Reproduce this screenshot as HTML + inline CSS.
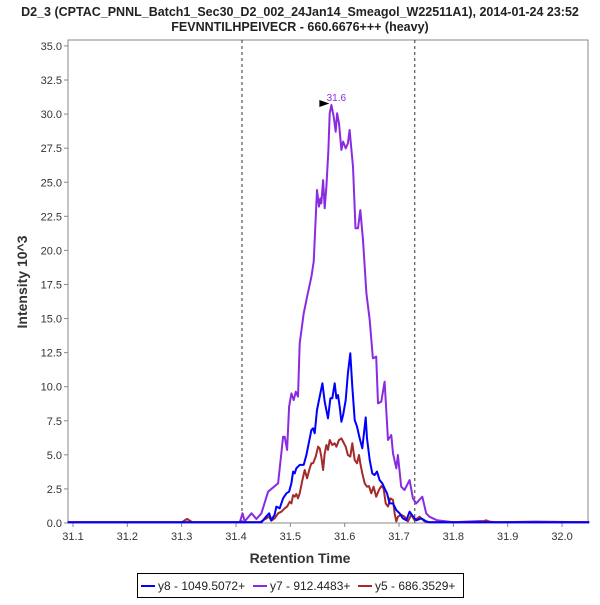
<!DOCTYPE html>
<html><head><meta charset="utf-8"><style>
body{margin:0;background:#fff;font-family:"Liberation Sans",sans-serif}
svg text{font-family:"Liberation Sans",sans-serif}
</style></head><body>
<svg id="chart" width="600" height="600" xmlns="http://www.w3.org/2000/svg">
<text x="300" y="16" text-anchor="middle" font-size="12.5" font-weight="bold" fill="#222">D2_3 (CPTAC_PNNL_Batch1_Sec30_D2_002_24Jan14_Smeagol_W22511A1), 2014-01-24 23:52</text>
<text x="300" y="31" text-anchor="middle" font-size="12.5" font-weight="bold" fill="#222">FEVNNTILHPEIVECR - 660.6676+++ (heavy)</text>
<rect x="68" y="40" width="520" height="483" fill="#fff" stroke="#888"/>
<g id="axes"></g>
<g id="series"></g>
<text x="300" y="563" text-anchor="middle" font-size="14" font-weight="bold" fill="#333">Retention Time</text>
<text transform="translate(27,282) rotate(-90)" text-anchor="middle" font-size="14" font-weight="bold" fill="#333">Intensity 10^3</text>
<g>
<rect x="137.5" y="573.5" width="326" height="24" fill="#fff" stroke="#000"/>
<line x1="141" y1="586" x2="155" y2="586" stroke="#0000ff" stroke-width="2"/>
<text x="158" y="590" font-size="12" fill="#222">y8 - 1049.5072+</text>
<line x1="253" y1="586" x2="267" y2="586" stroke="#8a2be2" stroke-width="2"/>
<text x="270" y="590" font-size="12" fill="#222">y7 - 912.4483+</text>
<line x1="358" y1="586" x2="372" y2="586" stroke="#a52a2a" stroke-width="2"/>
<text x="375" y="590" font-size="12" fill="#222">y5 - 686.3529+</text>
</g>
</svg>
<script>
const xTicks=[31.1,31.2,31.3,31.4,31.5,31.6,31.7,31.8,31.9,32.0];
const yTicks=[0,2.5,5,7.5,10,12.5,15,17.5,20,22.5,25,27.5,30,32.5,35];
const boundaries=[31.411,31.729];
const peakTime=31.6, peakValue=30.67, peakTimeAt=31.5755;

const y7T=[31.09,31.389,31.407,31.412,31.416,31.4285,31.4376,31.4468,31.459,31.4775,31.4866,31.4897,31.494,31.4977,31.502,31.5062,31.51,31.514,31.5173,31.5246,31.5308,31.5387,31.543,31.549,31.5528,31.5553,31.557,31.5602,31.5632,31.5663,31.57,31.5724,31.5755,31.5798,31.5835,31.586,31.5896,31.5939,31.597,31.6018,31.606,31.609,31.6153,31.62,31.6245,31.6288,31.6337,31.64,31.646,31.652,31.658,31.6613,31.6674,31.6735,31.6797,31.6858,31.6889,31.695,31.698,31.704,31.71,31.7195,31.7256,31.7317,31.7428,31.75,31.756,31.77,31.80,31.85,31.88,31.95,32.05];
const y7V=[0.05,0.05,0.05,0.71,0.12,0.71,0.29,0.71,2.30,2.91,6.33,6.33,5.36,8.53,9.51,9.02,9.63,9.27,13.18,15.38,16.6,18.07,19.17,24.43,23.21,23.82,23.45,25.16,23.09,24.68,27.37,30.06,30.67,29.81,28.71,30.06,29.32,27.37,27.98,27.49,27.86,28.83,26.14,21.62,21.62,22.96,20.76,16.85,14.89,12.08,12.2,8.78,8.9,10.37,6.09,6.46,5.11,4.01,4.99,2.66,2.42,3.15,1.81,1.44,1.93,0.71,0.46,0.2,0.05,0.15,0.05,0.1,0.05];

const y8T=[31.09,31.389,31.4468,31.456,31.461,31.465,31.471,31.4744,31.4805,31.4866,31.4928,31.4977,31.502,31.505,31.508,31.511,31.5173,31.5246,31.5296,31.5357,31.5387,31.5418,31.5449,31.549,31.554,31.559,31.5632,31.5693,31.5737,31.5773,31.5816,31.5847,31.5877,31.5908,31.5939,31.597,31.6018,31.606,31.6104,31.614,31.6184,31.6227,31.6276,31.6325,31.6386,31.641,31.646,31.6509,31.6551,31.6594,31.6643,31.6692,31.6735,31.6778,31.6827,31.6889,31.695,31.701,31.7072,31.7134,31.7195,31.7256,31.7317,31.741,31.75,31.756,31.85,32.05];
const y8V=[0.05,0.05,0.05,0.49,0.71,0.2,0.61,1.2,1.08,1.81,2.18,2.30,2.91,3.77,3.64,4.01,4.26,4.26,4.99,6.21,6.82,6.95,6.58,8.29,9.27,10.25,8.9,7.68,9.15,9.15,10.25,9.15,9.39,8.53,7.43,7.92,9.02,10.98,12.45,10.0,7.56,7.07,6.21,5.48,7.75,6.21,4.62,3.64,3.52,3.77,3.15,2.91,2.54,2.18,1.44,1.44,0.95,0.71,0.34,0.2,0.83,0.49,0.2,0.34,0.12,0.05,0.05,0.05];

const y5T=[31.09,31.30,31.31,31.32,31.4438,31.4498,31.456,31.461,31.465,31.471,31.4775,31.4836,31.4897,31.494,31.4989,31.502,31.505,31.508,31.511,31.514,31.5173,31.5222,31.5265,31.5308,31.5357,31.5387,31.5418,31.5467,31.551,31.554,31.557,31.5602,31.5632,31.5663,31.5693,31.5724,31.5773,31.5816,31.5847,31.5896,31.5939,31.597,31.6018,31.606,31.6104,31.614,31.6184,31.6227,31.6263,31.6288,31.6325,31.6368,31.641,31.6447,31.649,31.6533,31.658,31.663,31.6674,31.6717,31.6754,31.6797,31.684,31.6889,31.6919,31.695,31.698,31.704,31.71,31.7164,31.7226,31.7287,31.7379,31.747,31.756,31.85,31.86,31.87,32.05];
const y5V=[0.05,0.05,0.3,0.05,0.05,0.2,0.34,0.46,0.17,0.34,0.71,0.83,1.08,1.2,1.56,1.44,2.05,1.93,2.13,1.81,2.18,3.15,3.89,3.28,4.01,4.38,4.38,4.87,5.6,5.48,4.87,3.89,5.11,5.72,5.36,6.09,5.72,5.85,5.6,6.09,6.21,5.97,5.6,4.99,4.87,5.85,4.62,4.38,4.99,4.38,3.64,2.91,2.66,2.71,2.18,2.66,1.93,2.42,2.71,2.54,1.44,1.2,1.81,1.69,0.71,0.12,0.46,0.61,0.46,0.12,0.61,0.2,0.46,0.12,0.05,0.05,0.2,0.05,0.05];

const X0=68,X1=588,Y0=523,Y1=40;
const tMin=31.1-5/544, tMax=32.0+26/544, vMax=(523-40)/13.63;
const xs=t=>X0+(t-tMin)/(tMax-tMin)*(X1-X0);
const ys=v=>Y0-(v/vMax)*(Y0-Y1);
const NS='http://www.w3.org/2000/svg';
const axes=document.getElementById('axes'), ser=document.getElementById('series');
function mk(tag,attrs,parent){const e=document.createElementNS(NS,tag);for(const k in attrs)e.setAttribute(k,attrs[k]);parent.appendChild(e);return e;}
xTicks.forEach(t=>{const x=xs(t);
 const l=mk('line',{x1:x,x2:x,y1:Y0,y2:Y0+4,stroke:'#888'},axes);
 
 
 const tx=mk('text',{x:x,y:Y0+17,'text-anchor':'middle','font-size':'11',fill:'#333'},axes);
 tx.textContent=t.toFixed(1);
 
 });
yTicks.forEach(v=>{const y=ys(v);
 const l=mk('line',{x1:X0-4,x2:X0,y1:y,y2:y,stroke:'#888'},axes);
 
 
 const tx=mk('text',{x:X0-6,y:y+4,'text-anchor':'end','font-size':'11',fill:'#333'},axes);
 tx.textContent=v.toFixed(1);
 
 });
boundaries.forEach(t=>{const x=xs(t);
 const l=mk('line',{x1:x,x2:x,y1:Y1,y2:Y0,stroke:'#333','stroke-dasharray':'3,3'},axes);
 
 });
function draw(T,V,color,name){
 const pts=T.map((t,i)=>[t,V[i]]).sort((a,b)=>a[0]-b[0]).map(p=>xs(p[0]).toFixed(1)+','+ys(p[1]).toFixed(1)).join(' ');
 const p=mk('polyline',{points:pts,fill:'none',stroke:color,'stroke-width':'2','stroke-linejoin':'round'},ser);
 
 }
draw(y7T,y7V,'#8a2be2','series-y7');
draw(y5T,y5V,'#a52a2a','series-y5');
draw(y8T,y8V,'#0000ff','series-y8');
const px=xs(peakTimeAt), py=ys(peakValue);
const tri=mk('polygon',{points:`${px-12},${py-5} ${px-12},${py+2} ${px-2},${py-1.5}`,fill:'#000'},ser);


const pl=mk('text',{x:px+5,y:py-4,'font-size':'10',fill:'#8a2be2','text-anchor':'middle'},ser);
pl.textContent=peakTime.toFixed(1);


</script>
</body></html>
